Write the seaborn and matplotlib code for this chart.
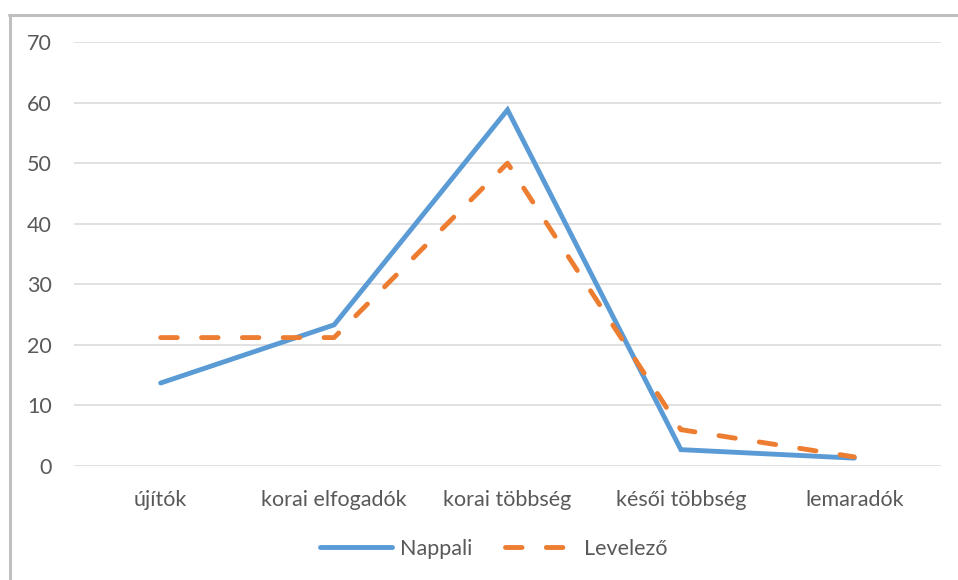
import matplotlib
matplotlib.use("Agg")
import matplotlib.pyplot as plt
from matplotlib.lines import Line2D
import seaborn as sns
import pandas as pd

categories = ["újítók", "korai elfogadók", "korai többség", "késői többség", "lemaradók"]
nappali = [13.7, 23.3, 58.8, 2.7, 1.3]
levelezo = [21.2, 21.2, 50.0, 6.0, 1.5]
series_names = ["Nappali", "Levelező"]
y_ticks = [0, 10, 20, 30, 40, 50, 60, 70]

df = pd.DataFrame({
    "kategória": categories * 2,
    "érték": nappali + levelezo,
    "csoport": [series_names[0]] * len(categories) + [series_names[1]] * len(categories),
})

sns.set_theme(style="white")
plt.rcParams["font.family"] = ["Lato", "DejaVu Sans"]

W, H = 958, 580
fig = plt.figure(figsize=(W / 100, H / 100), dpi=100)
ax = fig.add_axes([74 / W, (H - 466) / H, (941 - 74) / W, (466 - 42) / H])

blue = "#5B9BD5"
orange = "#ED7D31"
text_col = "#595959"
lw = 3.5
dash = (3.4, 5.0)
fs = 15.5

sns.lineplot(
    data=df, x="kategória", y="érték", hue="csoport", style="csoport",
    palette={series_names[0]: blue, series_names[1]: orange},
    dashes={series_names[0]: "", series_names[1]: dash},
    linewidth=lw, sort=False, ax=ax, legend=False,
)
for ln in ax.lines:
    ln.set_dash_capstyle("round")
    ln.set_solid_capstyle("round")
    ln.set_solid_joinstyle("miter")

ax.set_xlim(-0.5, len(categories) - 0.5)
ax.set_ylim(0, 70)
ax.set_yticks(y_ticks)
ax.yaxis.grid(True, color="#D9D9D9", linewidth=1.1)
ax.set_axisbelow(True)
for s in ax.spines.values():
    s.set_visible(False)
ax.set_xlabel("")
ax.set_ylabel("")
ax.tick_params(axis="y", length=0, pad=16, labelsize=fs, labelcolor=text_col)
ax.tick_params(axis="x", length=0, pad=17, labelsize=fs, labelcolor=text_col)

handles = [
    Line2D([], [], color=blue, lw=lw, solid_capstyle="round"),
    Line2D([], [], color=orange, lw=lw, linestyle=(0, dash), dash_capstyle="round"),
]
fig.legend(handles, series_names, loc="center", bbox_to_anchor=(494 / W, (H - 549) / H),
           ncol=2, frameon=False, fontsize=fs, labelcolor=text_col,
           handlelength=3.35, handletextpad=0.35, columnspacing=1.5)

# chart area frame (left and top edges)
fig.add_artist(Line2D([9.5 / W, 9.5 / W], [0, (H - 14.5) / H], transform=fig.transFigure,
                      color="#BFBFBF", lw=2.2))
fig.add_artist(Line2D([8.5 / W, 1], [(H - 14.5) / H, (H - 14.5) / H], transform=fig.transFigure,
                      color="#BFBFBF", lw=2.2))

fig.savefig("out.png", dpi=100, facecolor="white")
